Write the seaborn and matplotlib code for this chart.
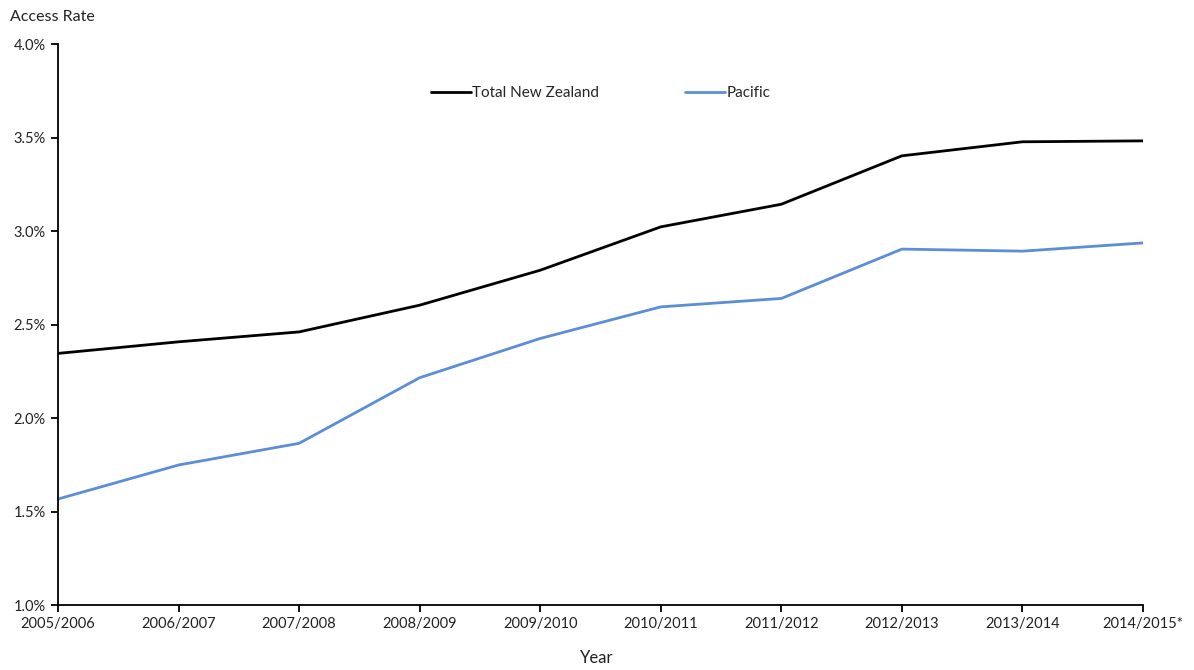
import numpy as np
import pandas as pd
import matplotlib
matplotlib.use("Agg")
import matplotlib.pyplot as plt
import seaborn as sns
from matplotlib.ticker import FuncFormatter

years = ["2005/2006", "2006/2007", "2007/2008", "2008/2009", "2009/2010",
         "2010/2011", "2011/2012", "2012/2013", "2013/2014", "2014/2015*"]
total_nz = [2.346, 2.408, 2.461, 2.604, 2.791, 3.023, 3.144, 3.403, 3.478, 3.483]
pacific = [1.567, 1.749, 1.865, 2.216, 2.426, 2.595, 2.640, 2.904, 2.893, 2.937]
series_names = ["Total New Zealand", "Pacific"]
colors = ["#000000", "#5B8ED6"]

sns.set_style("ticks")
plt.rcParams['font.family'] = ['Lato', 'DejaVu Sans']

df = pd.DataFrame({
    "idx": list(range(len(years))) * 2,
    "rate": total_nz + pacific,
    "series": [series_names[0]] * len(years) + [series_names[1]] * len(years),
})

fig = plt.figure(figsize=(11.94, 6.70), dpi=100)
ax = fig.add_axes([0.0486, 0.097, 0.9087, 0.837])

sns.lineplot(data=df, x="idx", y="rate", hue="series", palette=colors,
             hue_order=series_names, linewidth=2.0, ax=ax, legend=True)

ax.set_xlim(0, len(years) - 1)
ax.set_ylim(1.0, 4.0)
ax.set_yticks(np.arange(1.0, 4.01, 0.5))
ax.yaxis.set_major_formatter(FuncFormatter(lambda v, p: f"{v:.1f}%"))
ax.set_xticks(range(len(years)))
ax.set_xticklabels(years)
ax.tick_params(axis="both", direction="out", length=5, width=1.3,
               labelsize=10.5, colors="#000000", labelcolor="#222222")
ax.tick_params(axis="y", pad=4)
for s in ["left", "bottom"]:
    ax.spines[s].set_linewidth(1.3)
    ax.spines[s].set_color("#000000")
sns.despine(ax=ax)

ax.set_xlabel("")
ax.set_ylabel("")
fig.text(0.008, 0.975, "Access Rate", fontsize=11.5, ha="left", va="center", color="#222222")
fig.text(0.5, 0.018, "Year", fontsize=12, ha="center", va="center", color="#222222")

handles, labels = ax.get_legend_handles_labels()
ax.get_legend().remove()
fig.legend(handles, labels, loc="center", bbox_to_anchor=(0.503, 0.861), ncol=2,
           frameon=False, fontsize=11, handlelength=2.6, handletextpad=0.1,
           columnspacing=5.6)

fig.savefig("out.png", dpi=100)
